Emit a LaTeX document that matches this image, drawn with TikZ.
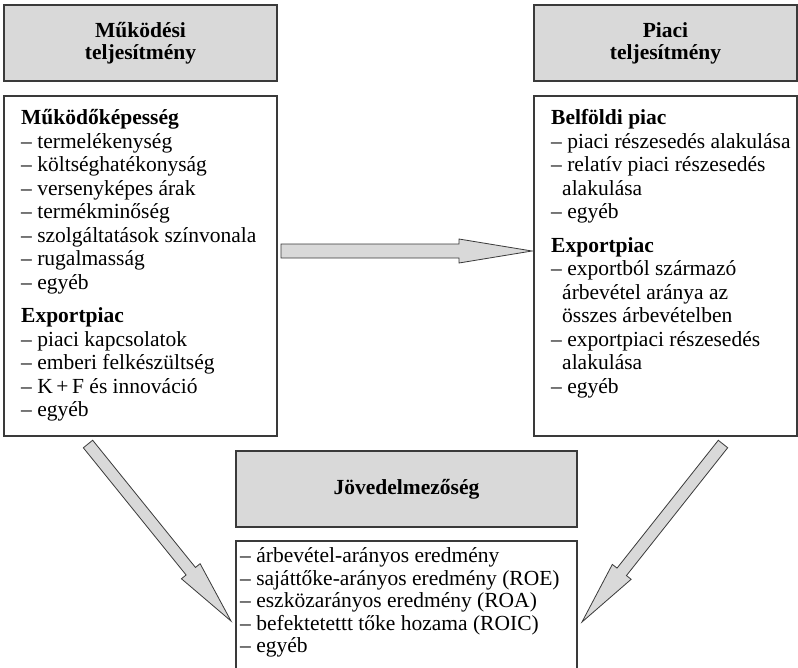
\documentclass[tikz,border=0pt]{standalone}
\usepackage{fontspec}
\setmainfont{Liberation Serif}
\usetikzlibrary{calc}
\definecolor{boxgray}{HTML}{D9D9D9}
\definecolor{edgecol}{HTML}{3A3A3A}
\tikzset{
  titlebox/.style={draw=edgecol, fill=boxgray, line width=1.1pt, align=center,
    font=\fontsize{21.5}{22}\selectfont\bfseries, inner sep=0pt},
  contentbox/.style={draw=edgecol, line width=1.1pt},
  itemtext/.style={anchor=north west, align=left, inner sep=0pt,
    font=\fontsize{21.5}{23.5}\selectfont},
  blockarrow/.style={draw=edgecol, fill=boxgray, line width=0.8pt, line join=miter},
}
\newcommand\blockarrow[6]{% name, tail, tip, shaft half, head half, head length
  \coordinate (#1h) at ($(#3)!#6!(#2)$);
  \path[blockarrow] ($(#2)!#4!90:(#3)$) -- ($(#1h)!#4!90:(#3)$) -- ($(#1h)!#5!90:(#3)$)
    -- (#3) -- ($(#1h)!#5!-90:(#3)$) -- ($(#1h)!#4!-90:(#3)$) -- ($(#2)!#4!-90:(#3)$) -- cycle;
}
\begin{document}
\begin{tikzpicture}[x=1pt,y=-1pt]
\useasboundingbox (0,0) rectangle (798,667);
\clip (0,0) rectangle (798,667);
\fill[white] (0,0) rectangle (798,667);
% title boxes
\node[titlebox, minimum width=273pt, minimum height=76pt] (t1) at (140.5,43) {Működési\\teljesítmény};
\node[titlebox, minimum width=263pt, minimum height=76pt] (t2) at (665.5,43) {Piaci\\teljesítmény};
\node[titlebox, minimum width=341pt, minimum height=76pt] (t3) at (406.5,489) {Jövedelmezőség};
% content boxes
\draw[contentbox] (4,96) rectangle (277,436);
\draw[contentbox] (534,96) rectangle (797,436);
\draw[contentbox] (236,541) rectangle (577,690);
\coordinate (b1w) at (277,251);
\coordinate (b2e) at (534,251);
% texts
\node[itemtext] (l1) at (21,108) {\strut\textbf{Működőképesség}\\
– termelékenység\\
– költséghatékonyság\\
– versenyképes árak\\
– termékminőség\\
– szolgáltatások színvonala\\
– rugalmasság\\
– egyéb\\[10pt]
\textbf{Exportpiac}\\
– piaci kapcsolatok\\
– emberi felkészültség\\
– K\,+\,F és innováció\\
– egyéb};
\node[itemtext] (l2) at (551,108) {\strut\textbf{Belföldi piac}\\
– piaci részesedés alakulása\\
– relatív piaci részesedés\\
\hspace*{11pt}alakulása\\
– egyéb\\[10pt]
\textbf{Exportpiac}\\
– exportból származó\\
\hspace*{11pt}árbevétel aránya az\\
\hspace*{11pt}összes árbevételben\\
– exportpiaci részesedés\\
\hspace*{11pt}alakulása\\
– egyéb};
\node[itemtext, font=\fontsize{21.5}{22.5}\selectfont] (l3) at (240,547) {\strut– árbevétel-arányos eredmény\\
– sajáttőke-arányos eredmény (ROE)\\
– eszközarányos eredmény (ROA)\\
– befektetettt tőke hozama (ROIC)\\
– egyéb};
% arrows
\coordinate (a1t) at (281,251);
\coordinate (a1p) at (532,251);
\blockarrow{a1}{a1t}{a1p}{7pt}{12pt}{73pt}
\coordinate (a2t) at (88,444);
\coordinate (a2p) at (231,621);
\blockarrow{a2}{a2t}{a2p}{6pt}{12pt}{64pt}
\coordinate (a3t) at (723,444);
\coordinate (a3p) at (582,622);
\blockarrow{a3}{a3t}{a3p}{6pt}{12pt}{64pt}
\end{tikzpicture}
\end{document}
